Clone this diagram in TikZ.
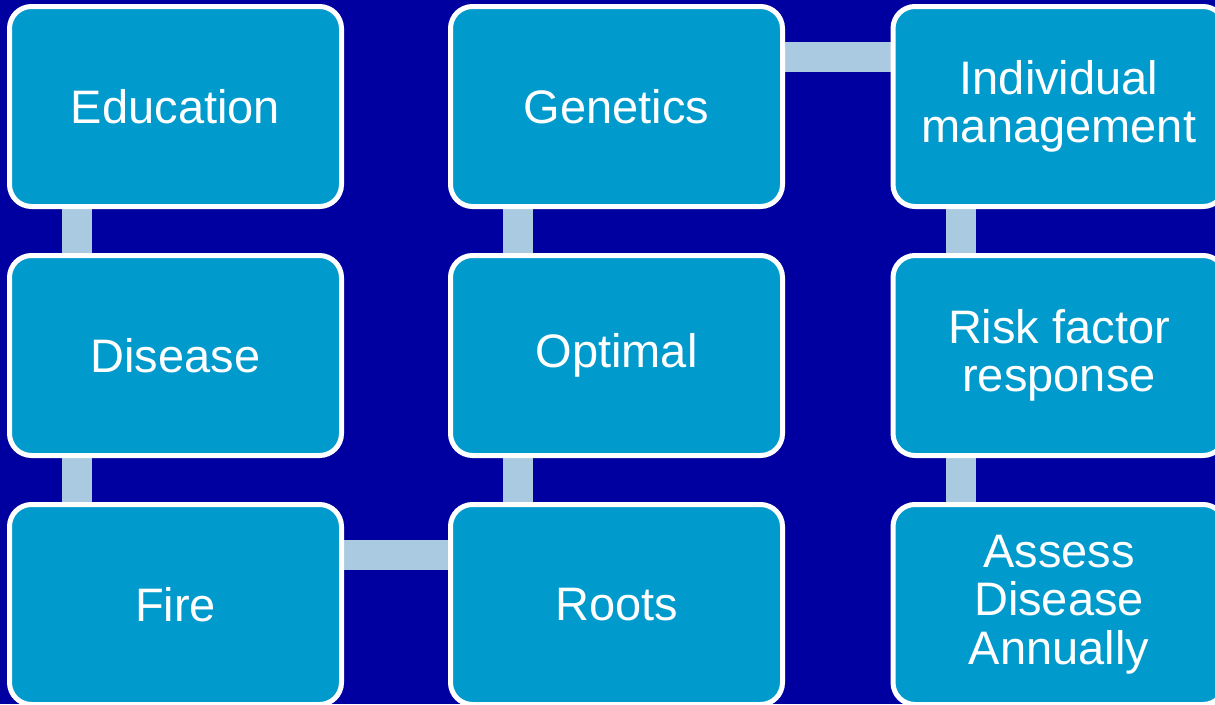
\documentclass[tikz,border=0pt]{standalone}
\usepackage{fontspec}
\setmainfont{Liberation Sans}
\usetikzlibrary{calc,backgrounds}
\definecolor{bgblue}{RGB}{0,0,160}
\definecolor{boxblue}{RGB}{0,154,205}
\definecolor{connblue}{RGB}{170,202,225}
\tikzset{
  stepbox/.style={draw=white, line width=5pt, fill=boxblue, rounded corners=22pt,
    minimum width=332pt, minimum height=200pt, inner sep=0pt, outer sep=0pt,
    text=white, align=center, font=\fontsize{47}{48.5}\selectfont},
  conn/.style={draw=connblue, line width=30pt}
}
\begin{document}
\begin{tikzpicture}[x=1pt,y=-1pt]
\useasboundingbox (0,0) rectangle (1215,704);
\begin{scope}[on background layer]
  \fill[bgblue] (0,0) rectangle (1215,704);
\end{scope}
% column 1
\node[stepbox] (edu) at (175.5,106.5) {Education};
\node[stepbox] (dis) at (175.5,355.5) {Disease};
\node[stepbox] (fire) at (175.5,604.5) {Fire};
% column 2
\node[stepbox] (gen) at (616.5,106.5) {Genetics};
\node[stepbox] (opt) at (616.5,355.5) {Optimal};
\node[stepbox] (roots) at (616.5,604.5) {Roots};
% column 3
\node[stepbox] (ind) at (1059,106.5) {Individual\\management};
\node[stepbox] (risk) at (1059,355.5) {Risk factor\\response};
\node[stepbox] (assess) at (1059,604.5) {Assess\\Disease\\Annually};
% connectors
\begin{scope}[on background layer]
  \draw[conn] ($(edu.south west)+(67.5,0)$) -- ($(dis.north west)+(67.5,0)$);
  \draw[conn] ($(dis.south west)+(67.5,0)$) -- ($(fire.north west)+(67.5,0)$);
  \draw[conn] ($(fire.north east)+(0,50.5)$) -- ($(roots.north west)+(0,50.5)$);
  \draw[conn] ($(roots.north west)+(67.5,0)$) -- ($(opt.south west)+(67.5,0)$);
  \draw[conn] ($(opt.north west)+(67.5,0)$) -- ($(gen.south west)+(67.5,0)$);
  \draw[conn] ($(gen.north east)+(0,50.5)$) -- ($(ind.north west)+(0,50.5)$);
  \draw[conn] ($(ind.south west)+(67.5,0)$) -- ($(risk.north west)+(67.5,0)$);
  \draw[conn] ($(risk.south west)+(67.5,0)$) -- ($(assess.north west)+(67.5,0)$);
\end{scope}
\end{tikzpicture}
\end{document}
